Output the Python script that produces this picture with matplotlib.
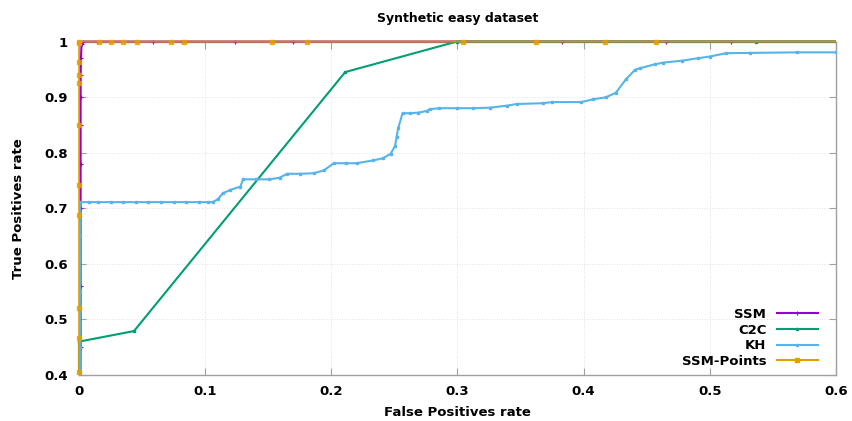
import matplotlib
matplotlib.use("Agg")
import matplotlib.pyplot as plt
from matplotlib.transforms import Bbox, TransformedBbox

# ROC points
ssm_fpr = [0.0, 0.0013, 0.0013, 0.0013, 0.0013, 0.0013, 0.0013, 0.0013, 0.0016, 0.002, 0.003,
           0.014, 0.059, 0.082, 0.124, 0.17, 0.383, 0.465, 0.517, 1.0]
ssm_tpr = [0.0, 0.45, 0.56, 0.70, 0.78, 0.85, 0.90, 0.94, 0.97, 0.995, 1.0,
           1.0, 1.0, 1.0, 1.0, 1.0, 1.0, 1.0, 1.0, 1.0]

c2c_fpr = [0.0, 0.0, 0.0436, 0.211, 0.2996, 0.537, 1.0]
c2c_tpr = [0.0, 0.460, 0.479, 0.945, 1.0, 1.0, 1.0]

kh_fpr = [0.001, 0.001, 0.001, 0.001, 0.001, 0.008, 0.015, 0.025, 0.035, 0.045, 0.055, 0.065,
          0.075, 0.085, 0.095, 0.102, 0.106, 0.110, 0.114, 0.120, 0.128, 0.130, 0.140, 0.151,
          0.159, 0.165, 0.175, 0.186, 0.194, 0.202, 0.212, 0.220, 0.233, 0.241, 0.247, 0.2505,
          0.2518, 0.253, 0.2565, 0.262, 0.269, 0.2755, 0.278, 0.285, 0.300, 0.3125, 0.326,
          0.339, 0.347, 0.368, 0.3746, 0.398, 0.4075, 0.4177, 0.4256, 0.4335, 0.4407, 0.4446,
          0.4565, 0.463, 0.4777, 0.491, 0.500, 0.513, 0.532, 0.569, 0.600, 1.0]
kh_tpr = [0.0, 0.45, 0.55, 0.65, 0.711, 0.711, 0.711, 0.711, 0.711, 0.711, 0.711, 0.711,
          0.711, 0.711, 0.711, 0.711, 0.711, 0.716, 0.727, 0.733, 0.739, 0.752, 0.752, 0.752,
          0.755, 0.762, 0.762, 0.763, 0.768, 0.781, 0.781, 0.781, 0.786, 0.790, 0.798, 0.812,
          0.829, 0.844, 0.871, 0.871, 0.872, 0.875, 0.878, 0.880, 0.880, 0.880, 0.881,
          0.8845, 0.8876, 0.889, 0.891, 0.891, 0.896, 0.8996, 0.908, 0.932, 0.949, 0.952,
          0.959, 0.962, 0.9655, 0.970, 0.973, 0.979, 0.9795, 0.9805, 0.9805, 1.0]

pts_fpr = [0.0, 0.0, 0.0, 0.0, 0.0, 0.0, 0.0, 0.0, 0.0, 0.0, 0.0, 0.0,
           0.016, 0.025, 0.035, 0.046, 0.073, 0.083, 0.153, 0.181, 0.304, 0.362, 0.417, 0.457, 1.0]
pts_tpr = [0.0, 0.406, 0.466, 0.520, 0.688, 0.742, 0.85, 0.925, 0.94, 0.964, 0.997, 1.0,
           1.0, 1.0, 1.0, 1.0, 1.0, 1.0, 1.0, 1.0, 1.0, 1.0, 1.0, 1.0, 1.0]

plt.rcParams["font.family"] = "DejaVu Sans"
plt.rcParams["font.weight"] = "bold"

fig = plt.figure(figsize=(8.52, 4.21), dpi=100)
ax = fig.add_axes([0.0927, 0.1093, 0.8885, 0.7921])

l1, = ax.plot(ssm_fpr, ssm_tpr, color="#9400d3", lw=1.5, marker="+", ms=2.5, mew=0.8,
              label="SSM", zorder=3)
l2, = ax.plot(c2c_fpr, c2c_tpr, color="#009e73", lw=1.5, marker="s", ms=1.6,
              label="C2C", zorder=3)
l3, = ax.plot(kh_fpr, kh_tpr, color="#56b4e9", lw=1.5, marker="s", ms=1.6,
              label="KH", zorder=3)
l4, = ax.plot(pts_fpr, pts_tpr, color="#e69f00", lw=1.5, marker="s", ms=3, alpha=0.8,
              label="SSM-Points", zorder=3)

# let the lines on the x=0 / y=1 edges show fully, like gnuplot does
clip = TransformedBbox(Bbox([[-0.01, 0.0], [1.0, 1.02]]), ax.transAxes)
for ln in (l1, l2, l3, l4):
    ln.set_clip_box(clip)
    ln.set_snap(False)

ax.set_xlim(0, 0.6)
ax.set_ylim(0.4, 1.0)
ax.set_xticks([0, 0.1, 0.2, 0.3, 0.4, 0.5, 0.6])
ax.set_xticklabels(["0", "0.1", "0.2", "0.3", "0.4", "0.5", "0.6"])
ax.set_yticks([0.4, 0.5, 0.6, 0.7, 0.8, 0.9, 1.0])
ax.set_yticklabels(["0.4", "0.5", "0.6", "0.7", "0.8", "0.9", "1"])

ax.grid(True, color="#d8d8d8", lw=0.6, linestyle=(0, (1, 2)))
ax.set_axisbelow(True)
for s in ax.spines.values():
    s.set_color("#a0a0a0")
    s.set_linewidth(1.0)
ax.tick_params(direction="in", length=5, color="#a0a0a0", labelsize=9.5,
               top=True, right=True)
ax.tick_params(axis="x", pad=7)
ax.tick_params(axis="y", pad=8)

ax.set_xlabel("False Positives rate", fontsize=9.5, fontweight="bold", labelpad=6)
ax.set_ylabel("True Positives rate", fontsize=9.5, fontweight="bold", labelpad=14)
ax.set_title("Synthetic easy dataset", fontsize=9, fontweight="bold", pad=14)

leg = ax.legend(loc="lower right", bbox_to_anchor=(0.976, 0.021), markerfirst=False,
                frameon=False, fontsize=9.5, handlelength=3.1, handletextpad=0.8,
                labelspacing=0.2, borderpad=0, borderaxespad=0, numpoints=1)
for h in leg.legend_handles:
    h.set_alpha(1.0)

plt.savefig("out.png", dpi=100)
plt.close()
